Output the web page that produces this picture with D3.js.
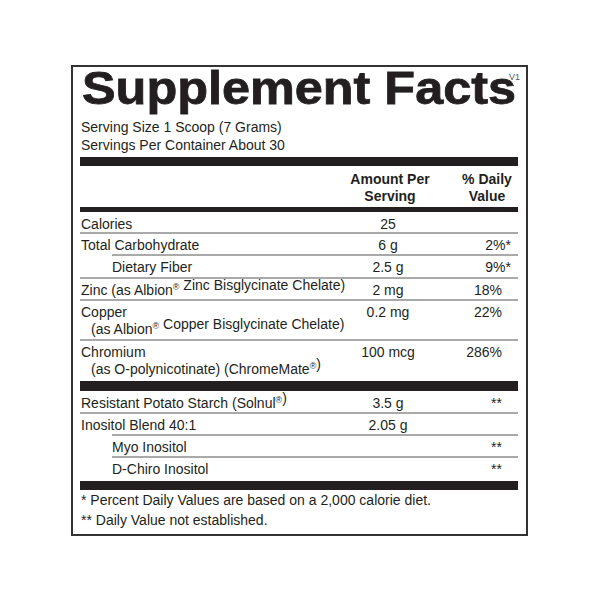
<!DOCTYPE html>
<html><head><meta charset="utf-8">
<script src="https://cdn.jsdelivr.net/npm/d3@7"></script>
<style>body{margin:0;background:#fff}</style></head>
<body><svg id="c" width="600" height="600"></svg>
<script>
const names = [["Calories"],["Total Carbohydrate"],["Dietary Fiber"],["Zinc (as Albion® Zinc Bisglycinate Chelate)"],["Copper","(as Albion® Copper Bisglycinate Chelate)"],["Chromium","(as O-polynicotinate) (ChromeMate®)"],["Resistant Potato Starch (Solnul®)"],["Inositol Blend 40:1"],["Myo Inositol"],["D-Chiro Inositol"]];
const amounts = ["25","6 g","2.5 g","2 mg","0.2 mg","100 mcg","3.5 g","2.05 g","",""];
const dailyValues = ["","2%*","9%*","18%","22%","286%","**","","**","**"];
const indented = [false,false,true,false,false,false,false,false,true,true];
const rowHeights = [21,22,23,22,40,40,22,22,22,23];
const footnotes = ["* Percent Daily Values are based on a 2,000 calorie diet.","** Daily Value not established."];

const svg = d3.select("#c");
const F = "Liberation Sans, Arial, sans-serif";
const L = 80, R = 518;
svg.append("rect").attr("x",72).attr("y",66).attr("width",455).attr("height",469).attr("fill","none").attr("stroke","#333").attr("stroke-width",2);
svg.append("text").attr("x",82).attr("y",104).attr("font-family",F).attr("font-weight","bold").attr("font-size",46).attr("textLength",434).attr("lengthAdjust","spacingAndGlyphs").attr("fill","#231f20").attr("stroke","#231f20").attr("stroke-width",0.8).text("Supplement Facts");
svg.append("text").attr("x",509).attr("y",80).attr("font-family",F).attr("font-size",9).attr("fill","#555").text("V1");
const t = (x,y,s,o={}) => {
  const el = svg.append("text").attr("x",x).attr("y",y).attr("font-family",F).attr("font-size",o.fs||14).attr("font-weight",o.fw||"normal").attr("text-anchor",o.a||"start").attr("fill","#231f20");
  s.split(/(®)/).forEach(p=>{
    if(p==="®") el.append("tspan").attr("font-size",9).attr("dy",-5).text("®").clone? null:null;
    if(p==="®") return;
    el.append("tspan").attr("dy", el.selectAll("tspan").size() && el.select("tspan:last-child").text()==="®" ? 5 : 0).text(p);
  });
  return el;
};
t(81,132,"Serving Size 1 Scoop (7 Grams)");
t(81,150,"Servings Per Container About 30");
const bar = (y,h) => svg.append("rect").attr("x",L).attr("y",y).attr("width",R-L).attr("height",h).attr("fill","#231f20");
bar(157,9);
t(390,184,"Amount Per",{a:"middle",fw:"bold"}); t(390,201,"Serving",{a:"middle",fw:"bold"});
t(487,184,"% Daily",{a:"middle",fw:"bold"}); t(487,201,"Value",{a:"middle",fw:"bold"});
bar(207,5);
let y = 212;
names.forEach((n,i)=>{
  if(i===6){ bar(y+1,10); y+=11; }
  const x0 = indented[i]?112:81;
  t(x0,y+17,n[0]);
  if(n[1]) t(91,y+34,n[1]);
  t(388,y+17,amounts[i],{a:"middle"});
  const dv = dailyValues[i];
  if(dv) t(dv.endsWith("%*")?511:502,y+17,dv,{a:"end"});
  y += rowHeights[i];
  if(i!==5 && i!==9){
    const nextInd = indented[i+1];
    svg.append("line").attr("x1",nextInd?112:L).attr("x2",R).attr("y1",y).attr("y2",y).attr("stroke","#555").attr("stroke-width",1);
  }
});
bar(y+1,9);
t(81,y+25,footnotes[0]);
t(81,y+45,footnotes[1]);
</script></body></html>
